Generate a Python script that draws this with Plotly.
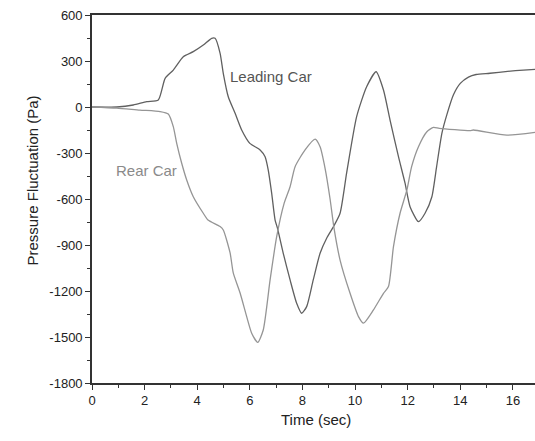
import plotly.graph_objects as go

# Leading car
lead_t = [0, 0.94, 1.57, 2.08, 2.52, 2.78, 3.09, 3.47, 3.85, 4.23, 4.55, 4.68, 4.87, 4.99,
          5.18, 5.44, 5.69, 6.0, 6.39, 6.58, 6.70, 6.83, 6.96, 7.05, 7.27, 7.53, 7.78, 7.97,
          8.16, 8.41, 8.67, 8.92, 9.18, 9.43, 9.68, 10.06, 10.44, 10.8, 11.08, 11.33, 11.65,
          11.9, 12.09, 12.41, 12.66, 12.92, 13.1, 13.3, 13.49, 13.74, 14.0, 14.31, 14.6,
          15.13, 15.8, 16.4, 16.84]
lead_p = [0, 0, 13, 35, 46, 187, 241, 328, 361, 404, 448, 448, 350, 220,
          67, -41, -150, -237, -280, -324, -411, -562, -737, -790, -954, -1128, -1280, -1345,
          -1302, -1128, -954, -856, -780, -693, -430, -63, 132, 230, 111, -85, -324,
          -497, -650, -748, -693, -585, -389, -172, -50, 80, 154, 195, 212,
          220, 232, 241, 246]

# Rear car
rear_t = [0, 0.94, 1.82, 2.59, 2.9, 3.09, 3.22, 3.41, 3.6, 3.85, 4.23, 4.41, 4.87, 4.99,
          5.25, 5.37, 5.63, 5.88, 6.07, 6.3, 6.51, 6.77, 7.02, 7.3, 7.53, 7.72, 8.1, 8.48,
          8.67, 8.86, 9.05, 9.2, 9.43, 9.81, 10.13, 10.32, 10.7, 11.08, 11.27, 11.46, 11.71,
          11.97, 12.15, 12.41, 12.73, 12.98, 13.2, 14.37, 14.5, 15.77, 16.84]
rear_p = [0, -7, -20, -30, -46, -128, -237, -367, -476, -585, -693, -737, -780, -802,
          -952, -1082, -1213, -1367, -1475, -1535, -1454, -1128, -846, -630, -520, -389, -280, -210,
          -260, -400, -600, -790, -998, -1215, -1367, -1410, -1323, -1215, -1171, -911, -693,
          -541, -389, -259, -161, -133, -139, -154, -150, -183, -165]

y_ticks = [600, 300, 0, -300, -600, -900, -1200, -1500, -1800]
y_labels = ["600", "300", "0", "-300", "-600", "-900", "-1200", "-1500", "-1800"]
x_ticks = [0, 2, 4, 6, 8, 10, 12, 14, 16]
x_labels = ["0", "2", "4", "6", "8", "10", "12", "14", "16"]

FONT = "Liberation Sans, Arial, sans-serif"

fig = go.Figure()
fig.add_trace(go.Scatter(x=lead_t, y=lead_p, mode="lines", name="Leading Car",
                         line=dict(color="#606060", width=1.3, shape="spline", smoothing=0.6)))
fig.add_trace(go.Scatter(x=rear_t, y=rear_p, mode="lines", name="Rear Car",
                         line=dict(color="#959595", width=1.3, shape="spline", smoothing=0.6)))

axis_common = dict(showgrid=False, zeroline=False, showline=True, linecolor="#333",
                   linewidth=1.6, ticks="outside", tickcolor="#333", tickwidth=1.4,
                   ticklen=5, automargin=False,
                   tickfont=dict(family=FONT, size=13, color="#222"))

fig.update_xaxes(range=[0, 16.84], tickmode="array", tickvals=x_ticks, ticktext=x_labels,
                 mirror=True,
                 minor=dict(ticks="outside", dtick=1, tick0=0, ticklen=3, tickcolor="#333"),
                 **axis_common)
fig.update_yaxes(range=[-1800, 600], tickmode="array", tickvals=y_ticks, ticktext=y_labels,
                 minor=dict(ticks="outside", dtick=150, tick0=0, ticklen=3, tickcolor="#333"),
                 **axis_common)

fig.add_annotation(x=6.81, y=196, text="Leading Car", showarrow=False,
                   font=dict(family=FONT, size=15, color="#555"))
fig.add_annotation(x=2.07, y=-411, text="Rear Car", showarrow=False,
                   font=dict(family=FONT, size=15, color="#8a8a8a"))
fig.add_annotation(xref="paper", yref="paper", x=0.506, y=-0.128, text="Time (sec)",
                   showarrow=False, font=dict(family=FONT, size=15, color="#222"))
fig.add_annotation(xref="paper", yref="paper", x=-0.158, y=0.549,
                   text="Pressure Fluctuation (Pa)", textangle=-90,
                   showarrow=False, font=dict(family=FONT, size=15, color="#222"))

fig.update_layout(width=535, height=441, template="none", showlegend=False,
                  paper_bgcolor="white", plot_bgcolor="white",
                  margin=dict(l=92, r=0, t=15, b=58))

fig.write_html("out.html")
